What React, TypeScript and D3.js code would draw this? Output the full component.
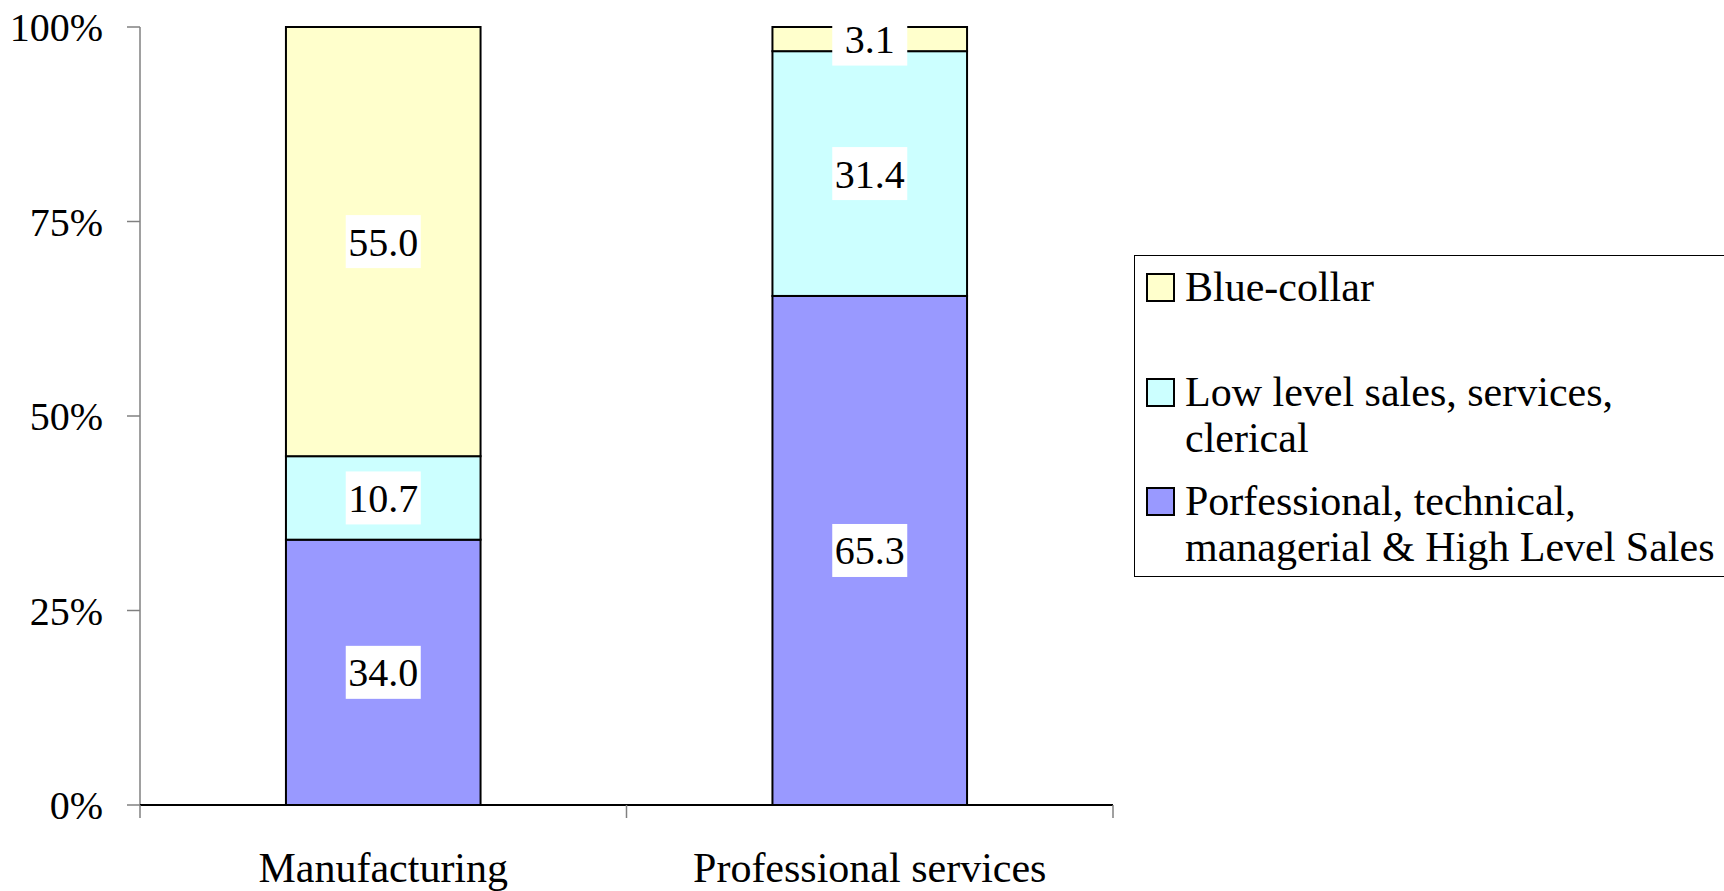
import React from "react";
import * as d3 from "d3";

const categories = ["Manufacturing", "Professional services"];
const seriesNames = [
  "Porfessional, technical, managerial & High Level Sales",
  "Low level sales, services, clerical",
  "Blue-collar",
];
const professional = [34.0, 65.3];
const lowLevel = [10.7, 31.4];
const blueCollar = [55.0, 3.1];
const seriesColors = ["#9999FF", "#CCFFFF", "#FFFFCC"];
const yTicks = [0, 0.25, 0.5, 0.75, 1];
const legendLines: string[][] = [
  ["Blue-collar"],
  ["Low level sales, services,", "clerical"],
  ["Porfessional, technical,", "managerial & High Level Sales"],
];
const legendColors = ["#FFFFCC", "#CCFFFF", "#9999FF"];

const FONT = "Liberation Serif, Times New Roman, Times, DejaVu Serif, serif";

export default function App() {
  const W = 1724, H = 891;
  const left = 140, right = 1113, top = 27, bottom = 805;

  const rows = categories.map((c, i) => ({
    cat: c,
    s0: professional[i],
    s1: lowLevel[i],
    s2: blueCollar[i],
  }));
  const stack = d3.stack<any>().keys(["s0", "s1", "s2"]).offset(d3.stackOffsetExpand);
  const layers = stack(rows);
  const rawVals = [professional, lowLevel, blueCollar];

  const x = d3.scaleBand().domain(categories).range([left, right]).paddingInner(0.6).paddingOuter(0.3);
  const xOuter = d3.scaleBand().domain(categories).range([left, right]);
  const y = d3.scaleLinear().domain([0, 1]).range([bottom, top]);

  const legendY = [301, 406, 515];
  const lineH = 46;
  const ts = { fontFamily: FONT };

  return (
    <svg width={W} height={H} style={{ position: "absolute", left: 0, top: 0, background: "#fff", fontFamily: FONT }}>
      <rect x={0} y={0} width={W} height={H} fill="#fff" />
      {layers.map((layer, li) =>
        layer.map((d, ci) => (
          <rect
            key={`${li}-${ci}`}
            x={x(categories[ci])!}
            y={y(d[1])}
            width={x.bandwidth()}
            height={y(d[0]) - y(d[1])}
            fill={seriesColors[li]}
            stroke="#000"
            strokeWidth={2}
          />
        ))
      )}
      {layers.map((layer, li) =>
        layer.map((d, ci) => {
          const cx = x(categories[ci])! + x.bandwidth() / 2;
          const cy = (y(d[0]) + y(d[1])) / 2;
          const txt = rawVals[li][ci].toFixed(1);
          return (
            <g key={`l-${li}-${ci}`}>
              <rect x={cx - 37.5} y={cy - 26.5} width={75} height={53} fill="#fff" />
              <text x={cx} y={cy + 14} textAnchor="middle" fontSize={40} fill="#000" style={ts}>
                {txt}
              </text>
            </g>
          );
        })
      )}
      <line x1={left} x2={left} y1={top} y2={bottom} stroke="#808080" strokeWidth={1.5} />
      {yTicks.map((t) => (
        <g key={t}>
          <line x1={left - 13} x2={left} y1={y(t)} y2={y(t)} stroke="#808080" strokeWidth={1.5} />
          <text x={103} y={y(t) + 14} textAnchor="end" fontSize={40} fill="#000" style={ts}>
            {d3.format(".0%")(t)}
          </text>
        </g>
      ))}
      <line x1={left} x2={right} y1={bottom} y2={bottom} stroke="#000" strokeWidth={2} />
      {[left, ...categories.map((c) => xOuter(c)! + xOuter.bandwidth())].map((px, i) => (
        <line key={i} x1={px} x2={px} y1={bottom} y2={bottom + 13} stroke="#808080" strokeWidth={1.5} />
      ))}
      {categories.map((c) => (
        <text key={c} x={xOuter(c)! + xOuter.bandwidth() / 2} y={882} textAnchor="middle" fontSize={42} fill="#000" style={ts}>
          {c}
        </text>
      ))}
      <rect x={1134.5} y={255.5} width={600} height={321} fill="#fff" stroke="#000" strokeWidth={1} />
      {legendLines.map((lines, i) => (
        <g key={i}>
          <rect x={1147} y={legendY[i] - 27} width={27} height={27} fill={legendColors[i]} stroke="#000" strokeWidth={2} />
          {lines.map((ln, j) => (
            <text key={j} x={1185} y={legendY[i] + j * lineH} fontSize={42} fill="#000" style={ts}>
              {ln}
            </text>
          ))}
        </g>
      ))}
    </svg>
  );
}
